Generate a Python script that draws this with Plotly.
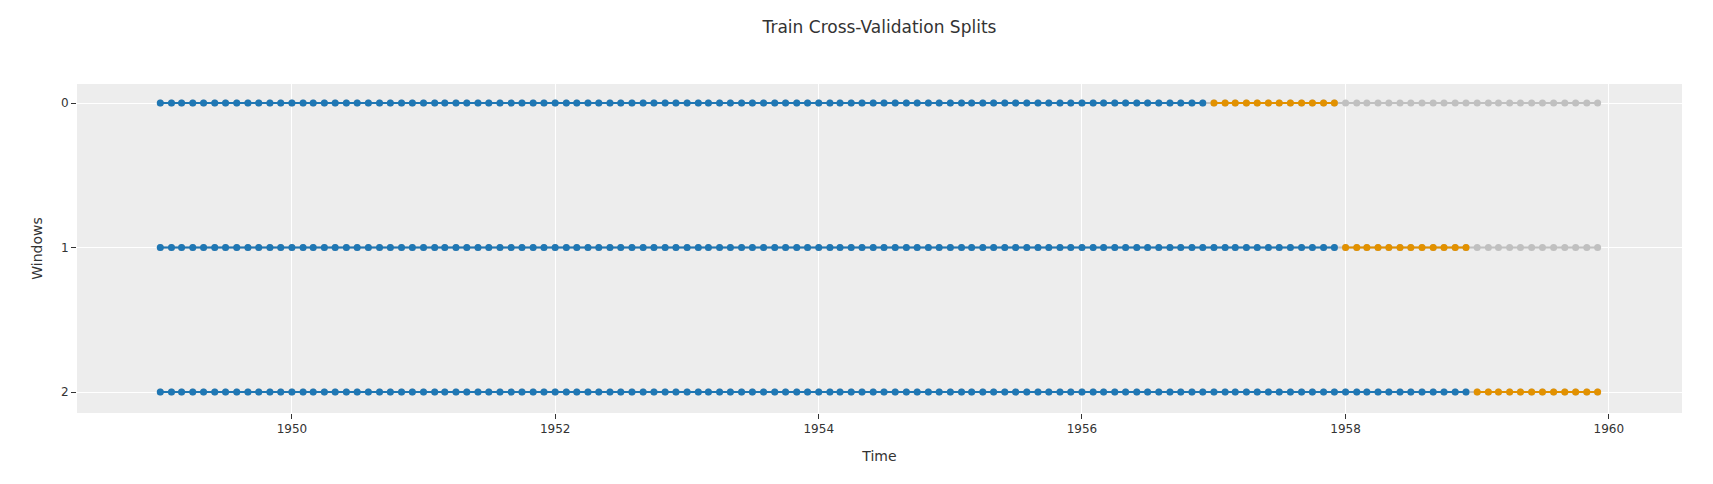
import pandas as pd
import plotly.graph_objects as go

dates = pd.date_range("1949-01-01", "1959-12-01", freq="MS")
windows = [0, 1, 2]
train_end = ["1956-12-01", "1957-12-01", "1958-12-01"]
test_end = ["1957-12-01", "1958-12-01", "1959-12-01"]

train_color = "#1f77b4"
test_color = "#e29100"
rest_color = "#c0c0c0"

fig = go.Figure()
for w, tr_end, te_end in zip(windows, train_end, test_end):
    tr_end = pd.Timestamp(tr_end)
    te_end = pd.Timestamp(te_end)
    train = dates[dates <= tr_end]
    test = dates[(dates > tr_end) & (dates <= te_end)]
    # gray backdrop line across the whole series
    fig.add_trace(go.Scatter(x=dates, y=[w] * len(dates), mode="lines+markers",
                             line=dict(color=rest_color, width=2),
                             marker=dict(color=rest_color, size=7), showlegend=False))
    fig.add_trace(go.Scatter(x=train, y=[w] * len(train), mode="lines+markers",
                             line=dict(color=train_color, width=2),
                             marker=dict(color=train_color, size=7), showlegend=False))
    fig.add_trace(go.Scatter(x=test, y=[w] * len(test), mode="lines+markers",
                             line=dict(color=test_color, width=2),
                             marker=dict(color=test_color, size=7), showlegend=False))

fig.update_layout(
    template="ggplot2",
    title=dict(text="Train Cross-Validation Splits", x=0.5, xref="paper",
               y=1 - 20 / 484, yref="container", yanchor="middle"),
    margin=dict(l=69, r=23, t=76, b=63),
    font=dict(family="DejaVu Sans"),
    showlegend=False,
)
fig.update_xaxes(title_text="Time", range=["1948-05-15", "1960-07-22"])
fig.update_yaxes(title_text="Windows", range=[2.145, -0.132],
                 tickvals=windows, ticktext=[str(w) for w in windows])
fig.write_html("out.html")
